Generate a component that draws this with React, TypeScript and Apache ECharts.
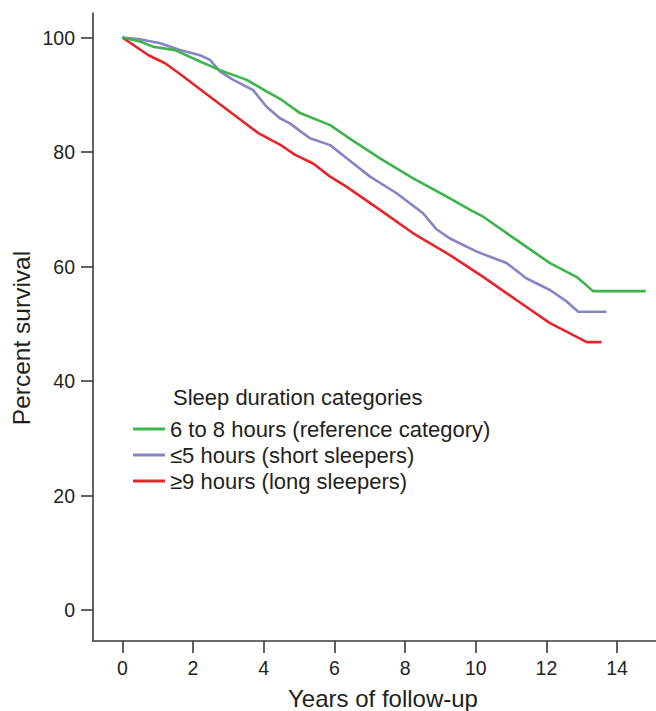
import React, { useEffect, useRef } from "react";
import * as echarts from "echarts";

const seriesNames = [
  "6 to 8 hours (reference category)",
  "≤5 hours (short sleepers)",
  "≥9 hours (long sleepers)",
];

const greenT = [0, 0.5, 0.87, 1.49, 2.2, 2.76, 3.52, 4.08, 4.46, 5.03, 5.88, 6.35, 7.29, 8.23, 9.18, 9.84, 10.21, 11.16, 12.1, 12.85, 13.32, 14.81];
const greenV = [100, 99.3, 98.4, 97.8, 95.8, 94.3, 92.6, 90.6, 89.3, 86.8, 84.7, 82.7, 78.9, 75.4, 72.2, 69.9, 68.7, 64.6, 60.6, 58.2, 55.7, 55.7];

const shortT = [0, 0.5, 1.07, 1.63, 2.2, 2.48, 2.76, 3.14, 3.7, 4.08, 4.46, 4.74, 5.11, 5.31, 5.88, 6.35, 7.01, 7.76, 8.51, 8.89, 9.27, 10.03, 10.87, 11.44, 12.1, 12.57, 12.9, 13.7];
const shortV = [100, 99.7, 99.0, 97.8, 96.9, 96.1, 94.1, 92.6, 90.8, 87.9, 85.9, 85.0, 83.3, 82.4, 81.2, 78.9, 75.7, 72.8, 69.3, 66.5, 64.9, 62.6, 60.6, 57.9, 55.9, 53.9, 52.1, 52.1];

const longT = [0, 0.74, 1.21, 1.68, 2.34, 3.09, 3.85, 4.51, 4.89, 5.4, 5.88, 6.35, 7.29, 8.23, 9.27, 10.21, 11.16, 12.1, 12.76, 13.14, 13.56];
const longV = [100, 96.9, 95.5, 93.4, 90.3, 86.8, 83.3, 81.1, 79.5, 78.0, 75.7, 73.9, 69.9, 65.8, 62.0, 58.2, 54.1, 50.1, 48.0, 46.8, 46.8];

const xTicks = [0, 2, 4, 6, 8, 10, 12, 14];
const yTicks = [0, 20, 40, 60, 80, 100];

const colors = ["#3cb44b", "#8585c5", "#e4262c"];
const FONT = "Liberation Sans, Arial, sans-serif";
const TXT = "#231f20";
const AX = "#3a3a3a";

function pairs(t: number[], v: number[]) {
  return t.map((x, i) => [x, v[i]]);
}

export default function App() {
  const ref = useRef<HTMLDivElement>(null);
  useEffect(() => {
    document.body.style.margin = "0";
    if (!ref.current) return;
    const chart = echarts.init(ref.current, null, { renderer: "svg" });
    const data = [pairs(greenT, greenV), pairs(shortT, shortV), pairs(longT, longV)];
    chart.setOption({
      animation: false,
      backgroundColor: "#ffffff",
      textStyle: { fontFamily: FONT },
      grid: { left: 93, right: 0, top: 13, bottom: 70, containLabel: false },
      xAxis: {
        type: "value",
        min: -0.83,
        max: 15.1,
        axisLine: { show: true, onZero: false, lineStyle: { color: AX, width: 1.6 } },
        axisTick: { show: true, inside: false, length: 12, customValues: xTicks, lineStyle: { color: AX, width: 1.6 } },
        axisLabel: { customValues: xTicks, margin: 17, fontSize: 19.5, color: TXT, fontFamily: FONT },
        splitLine: { show: false },
      },
      yAxis: {
        type: "value",
        min: -5.41,
        max: 104.28,
        axisLine: { show: true, onZero: false, lineStyle: { color: AX, width: 1.6 } },
        axisTick: { show: true, inside: false, length: 12, customValues: yTicks, lineStyle: { color: AX, width: 1.6 } },
        axisLabel: { customValues: yTicks, margin: 18, fontSize: 19.5, color: TXT, fontFamily: FONT },
        splitLine: { show: false },
      },
      legend: {
        orient: "vertical",
        left: 133,
        top: 418,
        icon: "rect",
        itemWidth: 32,
        itemHeight: 3,
        itemGap: 4,
        padding: 0,
        data: seriesNames,
        textStyle: { fontSize: 22, lineHeight: 22, color: TXT, fontFamily: FONT },
      },
      graphic: [
        {
          type: "text",
          x: 21.5,
          y: 338,
          rotation: Math.PI / 2,
          style: { text: "Percent survival", fontSize: 24.5, fontFamily: FONT, fill: TXT, textAlign: "center", textVerticalAlign: "middle" },
        },
        {
          type: "text",
          x: 383,
          y: 698,
          style: { text: "Years of follow-up", fontSize: 24, fontFamily: FONT, fill: TXT, textAlign: "center", textVerticalAlign: "middle" },
        },
        {
          type: "text",
          x: 173,
          y: 397,
          style: { text: "Sleep duration categories", fontSize: 22, fontFamily: FONT, fill: TXT, textAlign: "left", textVerticalAlign: "middle" },
        },
      ],
      series: seriesNames.map((name, i) => ({
        name,
        type: "line",
        data: data[i],
        showSymbol: false,
        symbol: "none",
        color: colors[i],
        lineStyle: { color: colors[i], width: 2.6 },
        itemStyle: { color: colors[i] },
        z: 3 - i,
      })),
    });
    return () => chart.dispose();
  }, []);
  return <div ref={ref} style={{ width: 656, height: 711 }} />;
}
